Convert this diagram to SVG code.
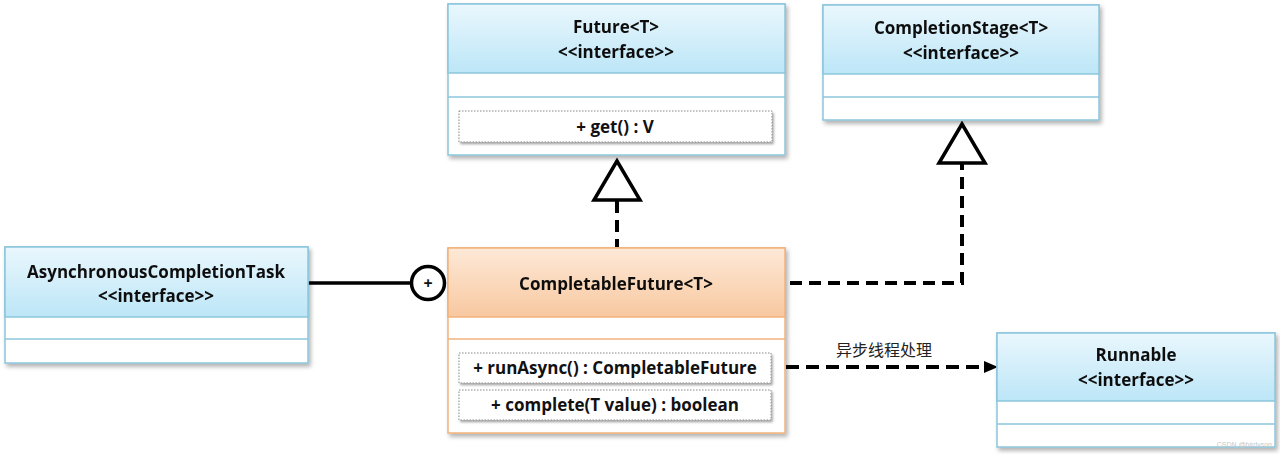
<svg xmlns="http://www.w3.org/2000/svg" width="1280" height="454" viewBox="0 0 1280 454">
<defs>
<linearGradient id="gBlue" x1="0" y1="0" x2="0" y2="1">
<stop offset="0" stop-color="#eaf7fd"/>
<stop offset="1" stop-color="#bce6f7"/>
</linearGradient>
<linearGradient id="gOrange" x1="0" y1="0" x2="0" y2="1">
<stop offset="0" stop-color="#fde9d7"/>
<stop offset="1" stop-color="#f8c8a0"/>
</linearGradient>
<filter id="sh" x="-5%" y="-5%" width="115%" height="120%">
<feDropShadow dx="2" dy="3" stdDeviation="2" flood-color="#000" flood-opacity="0.3"/>
</filter>
<filter id="sh2" x="-5%" y="-20%" width="110%" height="160%">
<feDropShadow dx="1.5" dy="2" stdDeviation="1.2" flood-color="#000" flood-opacity="0.35"/>
</filter>
</defs>
<style>
.box{fill:#fff;stroke:#8cc6dc;stroke-width:1.5}
.boxo{fill:#fff;stroke:#f2b27c;stroke-width:1.5}
.hb{fill:url(#gBlue);stroke:#8cc6dc;stroke-width:1.5}
.ho{fill:url(#gOrange);stroke:#f2b27c;stroke-width:1.5}
.sep{stroke:#8cc6dc;stroke-width:1.5}
.sepo{stroke:#f2b27c;stroke-width:1.5}
.m{fill:#fff;stroke:#888;stroke-width:1;stroke-dasharray:1.5 1.5}
.t{font-family:"Open Sans","Liberation Sans",sans-serif;font-weight:bold;font-size:17px;fill:#111;text-anchor:middle}
.dash{fill:none;stroke:#000;stroke-width:4;stroke-dasharray:12 7}
.solid{fill:none;stroke:#000;stroke-width:3.5}
.tri{fill:#fff;stroke:#000;stroke-width:3.5;stroke-linejoin:miter}
</style>

<g id="connectors">
<path class="solid" d="M308,283 H411"/>
<circle cx="428" cy="283" r="16.5" fill="#fff" stroke="#000" stroke-width="3.5"/>
<text x="428" y="289" class="t" style="font-size:16px">+</text>
<path class="dash" d="M617,201 V247"/>
<polygon class="tri" points="617,161 594,200 640,200"/>
<path class="dash" d="M790,283 H962 V164"/>
<polygon class="tri" points="962,124 939,163 985,163"/>
<path class="dash" d="M786,367 H986" style="stroke-dasharray:13 7"/>
<path d="M984,361 L998,367 L984,373 Z" fill="#000"/>
<text x="884" y="356" style="font-family:'Noto Sans CJK SC',sans-serif;font-size:16px;fill:#222;text-anchor:middle">异步线程处理</text>
</g>

<g id="future" filter="url(#sh)">
<rect class="box" x="448" y="4" width="337" height="151"/>
<rect class="hb" x="448" y="4" width="337" height="69"/>
<line class="sep" x1="448" y1="97" x2="785" y2="97"/>
<text x="616" y="33" class="t">Future&lt;T&gt;</text>
<text x="616" y="58" class="t">&lt;&lt;interface&gt;&gt;</text>
</g>
<g id="future-get">
<rect class="m" x="459" y="111" width="313" height="31" filter="url(#sh2)"/>
<text x="615" y="133" class="t">+ get() : V</text>
</g>

<g id="completionstage" filter="url(#sh)">
<rect class="box" x="823" y="5" width="276" height="115"/>
<rect class="hb" x="823" y="5" width="276" height="69"/>
<line class="sep" x1="823" y1="97" x2="1099" y2="97"/>
<text x="961" y="34" class="t">CompletionStage&lt;T&gt;</text>
<text x="961" y="59" class="t">&lt;&lt;interface&gt;&gt;</text>
</g>

<g id="asynctask" filter="url(#sh)">
<rect class="box" x="5" y="247" width="303" height="116"/>
<rect class="hb" x="5" y="247" width="303" height="70"/>
<line class="sep" x1="5" y1="339" x2="308" y2="339"/>
<text x="156" y="278" class="t">AsynchronousCompletionTask</text>
<text x="156" y="302" class="t">&lt;&lt;interface&gt;&gt;</text>
</g>

<g id="completablefuture" filter="url(#sh)">
<rect class="boxo" x="448" y="248" width="337" height="185"/>
<rect class="ho" x="448" y="248" width="337" height="69"/>
<line class="sepo" x1="448" y1="339" x2="785" y2="339"/>
<text x="616" y="290" class="t">CompletableFuture&lt;T&gt;</text>
</g>
<g id="cf-methods">
<rect class="m" x="459" y="353" width="312" height="30" filter="url(#sh2)"/>
<text x="615" y="374" class="t">+ runAsync() : CompletableFuture</text>
<rect class="m" x="459" y="390" width="312" height="30" filter="url(#sh2)"/>
<text x="615" y="411" class="t">+ complete(T value) : boolean</text>
</g>

<g id="runnable" filter="url(#sh)">
<rect class="box" x="997" y="333" width="278" height="114"/>
<rect class="hb" x="997" y="333" width="278" height="68"/>
<line class="sep" x1="997" y1="424" x2="1275" y2="424"/>
<text x="1136" y="361" class="t">Runnable</text>
<text x="1136" y="386" class="t">&lt;&lt;interface&gt;&gt;</text>
</g>
<text x="1272" y="447" style="font-family:'Liberation Sans',sans-serif;font-size:7px;fill:#c8c8c8;text-anchor:end">CSDN @birdyson</text>
</svg>
